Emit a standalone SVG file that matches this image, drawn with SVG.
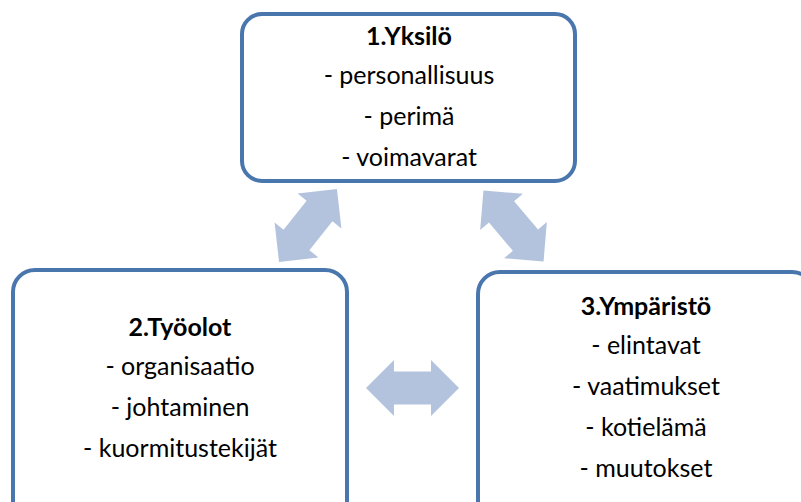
<svg xmlns="http://www.w3.org/2000/svg" width="801" height="502" viewBox="0 0 801 502">
  <defs>
    <style>
      .box { fill: #ffffff; stroke: #4a76ae; stroke-width: 4; }
      .txt { font-family: Lato, "Open Sans", "Liberation Sans", sans-serif; font-size: 25px; fill: #000000; text-anchor: middle; }
      .ttl { font-weight: bold; }
      .arr { fill: #b3c3dd; }
    </style>
    <!-- double-headed block arrow, centred on the origin, pointing along x -->
    <path id="dbl" d="M -46.5,0 L -18.5,-28 L -18.5,-16.5 L 18.5,-16.5 L 18.5,-28 L 46.5,0 L 18.5,28 L 18.5,16.5 L -18.5,16.5 L -18.5,28 Z"/>
  </defs>
  <rect width="801" height="502" fill="#ffffff"/>

  <g id="connectors">
    <use href="#dbl" class="arr" transform="translate(308,225.5) rotate(-51.5)"/>
    <use href="#dbl" class="arr" transform="translate(513.5,226) rotate(49.7)"/>
    <use href="#dbl" class="arr" transform="translate(412.5,388)"/>
  </g>

  <g id="node-yksilo">
    <rect class="box" x="242" y="14" width="333" height="167" rx="20" ry="20"/>
    <text class="txt ttl" x="409" y="45">1.Yksilö</text>
    <text class="txt" x="409" y="83.5">- personallisuus</text>
    <text class="txt" x="409" y="124.5">- perimä</text>
    <text class="txt" x="409" y="165.5">- voimavarat</text>
  </g>

  <g id="node-tyoolot">
    <rect class="box" x="13" y="270" width="334" height="260" rx="22" ry="22"/>
    <text class="txt ttl" x="180" y="336">2.Työolot</text>
    <text class="txt" x="180" y="375">- organisaatio</text>
    <text class="txt" x="180" y="416">- johtaminen</text>
    <text class="txt" x="180" y="457">- kuormitustekijät</text>
  </g>

  <g id="node-ymparisto">
    <rect class="box" x="478" y="272" width="336" height="260" rx="22" ry="22"/>
    <text class="txt ttl" x="646" y="315">3.Ympäristö</text>
    <text class="txt" x="646" y="354">- elintavat</text>
    <text class="txt" x="646" y="395">- vaatimukset</text>
    <text class="txt" x="646" y="436">- kotielämä</text>
    <text class="txt" x="646" y="477">- muutokset</text>
  </g>
</svg>
